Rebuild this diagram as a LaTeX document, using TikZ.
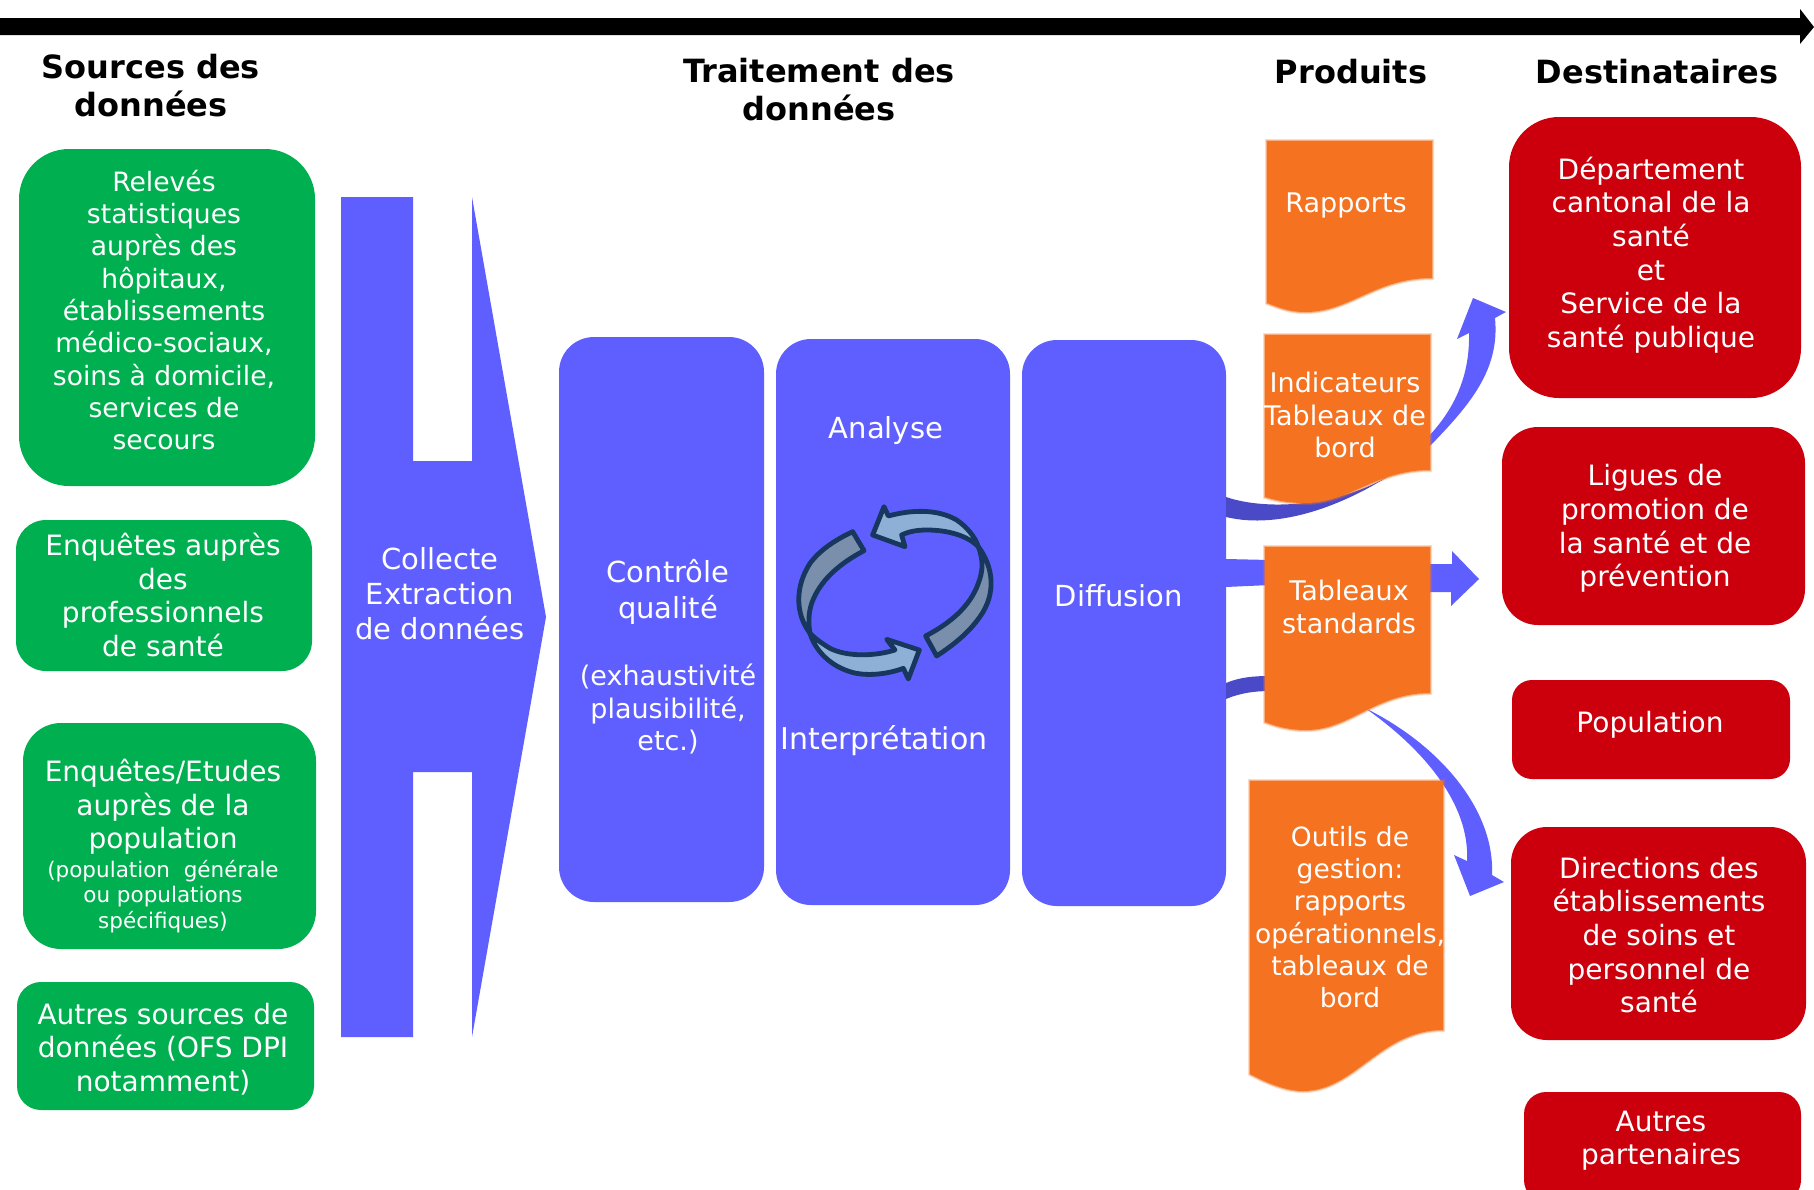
\documentclass[tikz,border=0pt]{standalone}
\usepackage{fontspec}
\setmainfont{DejaVu Sans}
\definecolor{gbg}{HTML}{00AF50}
\definecolor{bbg}{HTML}{5F5FFF}
\definecolor{bdk}{HTML}{4A4AC8}
\definecolor{obg}{HTML}{F47220}
\definecolor{rbg}{HTML}{CC000C}
\definecolor{icoline}{HTML}{17375E}
\definecolor{icolight}{HTML}{8FB0D6}
\definecolor{icogrey}{HTML}{7A8FAC}
\newcommand{\fsmall}{\fontsize{21.5}{25.5}\selectfont}
\newcommand{\fmid}{\fontsize{27}{32.5}\selectfont}
\newcommand{\fbig}{\fontsize{29}{36}\selectfont}
\tikzset{
  panel/.style={inner sep=0pt,outer sep=0pt,rounded corners=#1},
  gbox/.style={panel=#1,fill=gbg},
  bbox/.style={panel=#1,fill=bbg},
  rbox/.style={panel=#1,fill=rbg},
  doc/.style={preaction={draw=obg,draw opacity=.25,line width=4pt},preaction={draw=obg,draw opacity=.45,line width=2pt},fill=obg},
  flow/.style={fill=bbg},
  flowdark/.style={fill=bdk},
  ico/.style={draw=icoline,line width=4.8pt,line join=round},
  txt/.style={text=white,align=center,inner sep=0pt,font=\fmid},
  tall/.style={txt,font=\fontsize{28}{33.6}\selectfont},
  rel/.style={txt,font=\fontsize{26.6}{32.3}\selectfont},
  bigtxt/.style={txt,font=\fontsize{29}{35}\selectfont},
  hdg/.style={text=black,align=center,inner sep=0pt,font=\fontsize{32}{38}\selectfont\bfseries},
}
\begin{document}
\begin{tikzpicture}[x=1pt,y=-1pt]
\useasboundingbox (0,0) rectangle (1814,1189);
% time axis
\fill[black] (0,18) -- (1800,18) -- (1800,9) -- (1814,27) -- (1800,44) -- (1800,35) -- (0,35) -- cycle;
% headings
\node[hdg] (hsrc) at (151,86) {Sources des\\données};
\node[hdg] (htrt) at (819,90) {Traitement des\\données};
\node[hdg] (hprd) at (1351,72) {Produits};
\node[hdg] (hdst) at (1657,72) {Destinataires};
% sources
\node[gbox=50pt,minimum width=296pt,minimum height=337pt] (g1) at (167,317.5) {};
\node[gbox=30pt,minimum width=296pt,minimum height=151pt] (g2) at (164,595.5) {};
\node[gbox=38pt,minimum width=293pt,minimum height=226pt] (g3) at (169.5,836) {};
\node[gbox=24pt,minimum width=297pt,minimum height=128pt] (g4) at (165.5,1046) {};
\node[rel] (g1t) at (164,310) {Relevés\\statistiques\\auprès des\\hôpitaux,\\établissements\\médico-sociaux,\\soins à domicile,\\services de\\secours};
\node[tall] (g2t) at (163,595) {Enquêtes auprès\\des\\professionnels\\de santé};
\node[tall] (g3t) at (163,846) {Enquêtes/Etudes\\auprès de la\\population\\[-5pt]\fsmall (population~ générale\\[-8pt]\fsmall ou populations\\[-8pt]\fsmall spécifiques)};
\node[tall] (g4t) at (163,1049) {Autres sources de\\données (OFS DPI\\notamment)};
% collecte
\fill[flow] (341,197) -- (413,197) -- (413,461) -- (472,461) -- (472,197) -- (546,617) -- (472,1037) -- (472,772) -- (413,772) -- (413,1037) -- (341,1037) -- cycle;
\node[bigtxt] (coll) at (440,594) {Collecte\\Extraction\\de données};
% traitement
\node[bbox=35pt,minimum width=205pt,minimum height=565pt] (ctrl) at (661.5,619.5) {};
\node[bbox=35pt,minimum width=234pt,minimum height=566pt] (anal) at (893,622) {};
\node[bbox=35pt,minimum width=204pt,minimum height=566pt] (diff) at (1124,623) {};
\node[txt] (ctrlt) at (668,657) {\fbig Contrôle\\[3pt]\fbig qualité\\[35pt]\fmid (exhaustivité\\\fmid plausibilité,\\\fmid etc.)};
\node[bigtxt] (analt) at (886,430) {Analyse};
\node[txt,font=\fontsize{30}{35}\selectfont] (intt) at (884,741) {Interprétation};
\node[bigtxt] (difft) at (1119,596) {Diffusion};
% cycle icon
\begin{scope}[shift={(760,480)},x=0.3333pt,y=-0.3333pt]
\filldraw[ico,fill=icogrey] (655,200) .. controls (700,260) and (710,340) .. (660,410) .. controls (625,460) and (580,495) .. (530,528) -- (497,468) .. controls (570,430) and (630,380) .. (655,310) .. controls (670,270) and (670,240) .. (655,200) -- cycle;
\filldraw[ico,fill=icolight] (338,165) -- (372,80) -- (385,108) .. controls (450,90) and (530,85) .. (590,120) .. controls (620,140) and (645,170) .. (655,200) .. controls (620,165) and (560,150) .. (500,150) .. controls (470,150) and (445,155) .. (425,165) -- (435,200) -- cycle;
\filldraw[ico,fill=icogrey] (150,460) .. controls (105,400) and (105,320) .. (150,250) .. controls (180,210) and (225,180) .. (278,155) -- (312,212) .. controls (240,250) and (180,300) .. (155,370) .. controls (145,400) and (145,430) .. (150,460) -- cycle;
\filldraw[ico,fill=icolight] (478,510) -- (380,478) -- (405,510) .. controls (340,530) and (260,530) .. (210,505) .. controls (185,490) and (165,475) .. (150,460) .. controls (165,510) and (210,560) .. (280,578) .. controls (330,590) and (390,580) .. (430,565) -- (445,597) -- cycle;
\end{scope}
% flows under documents
\coordinate (fa) at (1226,497);
\coordinate (fb) at (1226,517);
\fill[flow] (1428,448) .. controls (1470,405) and (1500,370) .. (1495,318) -- (1506,312) -- (1473,298) -- (1457,339) -- (1469,333) .. controls (1470,375) and (1455,410) .. (1425,440) -- cycle;
\fill[flowdark] (fa) .. controls (1270,512) and (1345,505) .. (1395,472) .. controls (1345,505) and (1280,530) .. (fb) -- cycle;
\fill[flow] (1226,559) -- (1270,560) -- (1270,585) -- (1226,587) -- cycle;
\fill[flow] (1425,564) -- (1452,564) -- (1452,551) -- (1479,579) -- (1451,606) -- (1451,592) -- (1425,592) -- cycle;
\fill[flowdark] (1226,683) .. controls (1240,677) and (1255,676) .. (1270,676) -- (1270,691) .. controls (1255,691) and (1240,693) .. (1226,699) -- cycle;
\fill[flow] (1365,708) .. controls (1440,745) and (1495,810) .. (1492,875) -- (1504,882) -- (1470,896) -- (1454,855) -- (1467,861) .. controls (1470,805) and (1425,750) .. (1365,708) -- cycle;
% documents
\fill[doc] (1267,141) -- (1432,141) -- (1432,278) .. controls (1375,278) and (1350,312) .. (1305,312) .. controls (1290,312) and (1280,308) .. (1267,303) -- cycle;
\fill[doc] (1265,335) -- (1430,335) -- (1430,470) .. controls (1375,470) and (1350,503) .. (1305,503) .. controls (1290,503) and (1278,501) .. (1265,497) -- cycle;
\fill[doc] (1265,547) -- (1430,547) -- (1430,693) .. controls (1375,693) and (1350,730) .. (1306,730) .. controls (1290,730) and (1278,727) .. (1265,722) -- cycle;
\fill[doc] (1250,781) -- (1443,781) -- (1443,1030) .. controls (1380,1030) and (1355,1091) .. (1303,1091) .. controls (1285,1091) and (1265,1082) .. (1250,1074) -- cycle;
\node[txt] (o1t) at (1346,205) {Rapports};
\node[txt] (o2t) at (1345,415) {Indicateurs\\Tableaux de\\bord};
\node[txt] (o3t) at (1349,607) {Tableaux\\standards};
\node[txt,font=\fontsize{26.5}{32.3}\selectfont] (o4t) at (1350,917) {Outils de\\gestion:\\rapports\\opérationnels,\\tableaux de\\bord};
% recipients
\node[rbox=50pt,minimum width=292pt,minimum height=281pt] (r1) at (1655,257.5) {};
\node[rbox=36pt,minimum width=303pt,minimum height=198pt] (r2) at (1653.5,526) {};
\node[rbox=20pt,minimum width=278pt,minimum height=99pt] (r3) at (1651,729.5) {};
\node[rbox=36pt,minimum width=295pt,minimum height=213pt] (r4) at (1658.5,933.5) {};
\node[rbox=22pt,minimum width=277pt,minimum height=110pt] (r5) at (1662.5,1147) {};
\node[tall] (r1t) at (1651,255) {Département\\cantonal de la\\santé\\et\\Service de la\\santé publique};
\node[tall] (r2t) at (1655,528.5) {Ligues de\\promotion de\\la santé et de\\prévention};
\node[tall] (r3t) at (1650,725) {Population};
\node[tall] (r4t) at (1659,935) {Directions des\\établissements\\de soins et\\personnel de\\santé};
\node[tall] (r5t) at (1661,1140.5) {Autres\\partenaires};
\end{tikzpicture}
\end{document}
